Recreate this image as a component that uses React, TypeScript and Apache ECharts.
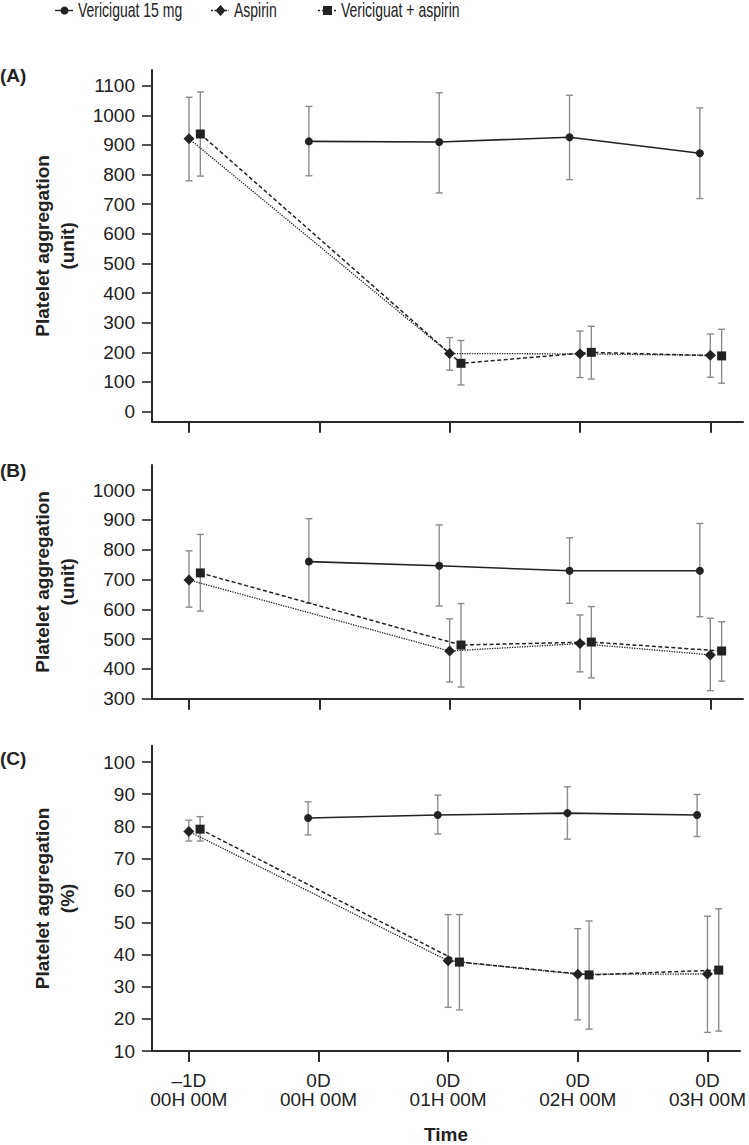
import React, { useEffect, useRef } from "react";
import * as echarts from "echarts";

// ---------- Data ----------
const timeLabels = ["–1D\n00H 00M", "0D\n00H 00M", "0D\n01H 00M", "0D\n02H 00M", "0D\n03H 00M"];
const vericiguatTimes = [1, 2, 3, 4];
const aspirinTimes = [0, 2, 3, 4];
const comboTimes = [0, 2, 3, 4];
const seriesNames = ["Vericiguat 15 mg", "Aspirin", "Vericiguat + aspirin"];

// Panel A (unit)
const vericiguatA = [912, 910, 926, 872];
const vericiguatALo = [796, 738, 783, 719];
const vericiguatAHi = [1030, 1076, 1068, 1025];
const aspirinA = [921, 196, 195, 190];
const aspirinALo = [779, 140, 115, 116];
const aspirinAHi = [1061, 250, 272, 262];
const comboA = [937, 163, 200, 188];
const comboALo = [795, 90, 110, 96];
const comboAHi = [1079, 240, 288, 278];

// Panel B (unit)
const vericiguatB = [760, 746, 729, 729];
const vericiguatBLo = [620, 611, 620, 575];
const vericiguatBHi = [904, 883, 840, 888];
const aspirinB = [698, 460, 485, 447];
const aspirinBLo = [607, 356, 390, 327];
const aspirinBHi = [796, 568, 581, 570];
const comboB = [722, 480, 490, 460];
const comboBLo = [594, 339, 370, 359];
const comboBHi = [851, 619, 609, 558];

// Panel C (%)
const vericiguatC = [82.6, 83.5, 84.1, 83.5];
const vericiguatCLo = [77.3, 77.6, 76.0, 76.8];
const vericiguatCHi = [87.6, 89.7, 92.3, 89.9];
const aspirinC = [78.4, 38.1, 33.9, 34.0];
const aspirinCLo = [75.4, 23.6, 19.7, 15.8];
const aspirinCHi = [81.9, 52.5, 48.1, 52.0];
const comboC = [79.1, 37.7, 33.7, 35.2];
const comboCLo = [75.4, 22.8, 16.8, 16.2];
const comboCHi = [83.0, 52.5, 50.5, 54.3];

const ticksA = [0, 100, 200, 300, 400, 500, 600, 700, 800, 900, 1000, 1100];
const ticksB = [300, 400, 500, 600, 700, 800, 900, 1000];
const ticksC = [10, 20, 30, 40, 50, 60, 70, 80, 90, 100];
const xTicks = [0, 1, 2, 3, 4];

// ---------- Styling ----------
const OFFSET_V = -0.08;
const OFFSET_A = 0;
const OFFSET_C = 0.087;
const INK = "#222222";
const AXIS = "#2a2a2a";
const ERR = "#8c8c8c";
const FONT = "'Liberation Sans', Arial, Helvetica, sans-serif";

const pts = (times: number[], vals: number[], off: number) => times.map((t, i) => [t + off, vals[i]]);
const errs = (times: number[], lo: number[], hi: number[], off: number) =>
  times.map((t, i) => [t + off, lo[i], hi[i]]);

const errRender = (params: any, api: any) => {
  const x = api.value(0);
  const p1 = api.coord([x, api.value(1)]);
  const p2 = api.coord([x, api.value(2)]);
  const cap = 3.5;
  const style = { stroke: ERR, lineWidth: 1.4 };
  return {
    type: "group",
    children: [
      { type: "line", shape: { x1: p1[0], y1: p1[1], x2: p2[0], y2: p2[1] }, style },
      { type: "line", shape: { x1: p1[0] - cap, y1: p1[1], x2: p1[0] + cap, y2: p1[1] }, style },
      { type: "line", shape: { x1: p2[0] - cap, y1: p2[1], x2: p2[0] + cap, y2: p2[1] }, style },
    ],
  };
};

// legend entry built from graphic primitives (condensed text like the original)
const legendEntry = (x: number, label: string, kind: "circle" | "diamond" | "square") => {
  const cy = 10.5;
  const lineDash = kind === "circle" ? null : kind === "diamond" ? [2, 1.5] : [2, 2];
  const children: any[] = [
    {
      type: "line",
      shape: { x1: x, y1: cy, x2: x + 18, y2: cy },
      style: { stroke: INK, lineWidth: 1.4, lineDash },
    },
  ];
  const mx = x + 9.5;
  if (kind === "circle") {
    children.push({ type: "circle", shape: { cx: mx, cy, r: 4 }, style: { fill: INK } });
  } else if (kind === "diamond") {
    children.push({
      type: "polygon",
      shape: { points: [[mx, cy - 5.5], [mx + 5, cy], [mx, cy + 5.5], [mx - 5, cy]] },
      style: { fill: INK },
    });
  } else {
    children.push({ type: "rect", shape: { x: mx - 4.5, y: cy - 4.5, width: 9, height: 9 }, style: { fill: INK } });
  }
  children.push({
    type: "text",
    x: x + 23,
    y: cy,
    scaleX: 0.7,
    style: { text: label, font: `20px ${FONT}`, fill: INK, verticalAlign: "middle", align: "left" },
  });
  return { type: "group", children };
};

export default function App() {
  const ref = useRef<HTMLDivElement>(null);
  useEffect(() => {
    if (!ref.current) return;
    const chart = echarts.init(ref.current, null, { renderer: "svg" });

    const grids = [
      { left: 152, top: 70, width: 591, height: 351.7 },
      { left: 152, top: 465, width: 591, height: 233.7 },
      { left: 152, top: 745.7, width: 591, height: 309.3 },
    ];
    const yRanges = [
      { min: -34, max: 1153, ticks: ticksA, name: "Platelet aggregation\n(unit)" },
      { min: 300, max: 1084, ticks: ticksB, name: "Platelet aggregation\n(unit)" },
      { min: 10, max: 105.1, ticks: ticksC, name: "Platelet aggregation\n(%)" },
    ];

    const xAxes = [0, 1, 2].map((i) => ({
      type: "value",
      gridIndex: i,
      min: -0.284,
      max: 4.251,
      splitLine: { show: false },
      axisLine: { show: true, onZero: false, lineStyle: { color: AXIS, width: 2 } },
      axisTick: { show: true, customValues: xTicks, length: 11, lineStyle: { color: AXIS, width: 2 } },
      axisLabel: {
        show: i === 2,
        customValues: xTicks,
        formatter: (v: number) => timeLabels[Math.round(v)],
        fontFamily: FONT,
        fontSize: 19,
        lineHeight: 19,
        margin: 20,
        color: INK,
      },
      name: i === 2 ? "Time" : "",
      nameLocation: "middle",
      nameGap: 74,
      nameTextStyle: { fontFamily: FONT, fontWeight: "bold", fontSize: 19, color: INK },
    }));

    const yAxes = yRanges.map((r, i) => ({
      type: "value",
      gridIndex: i,
      min: r.min,
      max: r.max,
      splitLine: { show: false },
      axisLine: { show: true, onZero: false, lineStyle: { color: AXIS, width: 2 } },
      axisTick: { show: true, customValues: r.ticks, length: 10, lineStyle: { color: AXIS, width: 1.6 } },
      axisLabel: {
        customValues: r.ticks,
        formatter: (v: number) => String(v),
        fontFamily: FONT,
        fontSize: 19,
        margin: 17,
        color: INK,
      },
      name: r.name,
      nameLocation: "middle",
      nameGap: 72,
      nameTextStyle: { fontFamily: FONT, fontWeight: "bold", fontSize: 19, lineHeight: 25, color: INK },
    }));

    const panels = [
      {
        v: [vericiguatA, vericiguatALo, vericiguatAHi],
        a: [aspirinA, aspirinALo, aspirinAHi],
        c: [comboA, comboALo, comboAHi],
      },
      {
        v: [vericiguatB, vericiguatBLo, vericiguatBHi],
        a: [aspirinB, aspirinBLo, aspirinBHi],
        c: [comboB, comboBLo, comboBHi],
      },
      {
        v: [vericiguatC, vericiguatCLo, vericiguatCHi],
        a: [aspirinC, aspirinCLo, aspirinCHi],
        c: [comboC, comboCLo, comboCHi],
      },
    ];

    const series: any[] = [];
    panels.forEach((p, i) => {
      const errData = [
        ...errs(vericiguatTimes, p.v[1], p.v[2], OFFSET_V),
        ...errs(aspirinTimes, p.a[1], p.a[2], OFFSET_A),
        ...errs(comboTimes, p.c[1], p.c[2], OFFSET_C),
      ];
      series.push({
        type: "custom",
        name: "err" + i,
        xAxisIndex: i,
        yAxisIndex: i,
        renderItem: errRender,
        data: errData,
        encode: { x: 0, y: [1, 2] },
        z: 1,
        silent: true,
      });
      series.push({
        type: "line",
        name: seriesNames[0],
        xAxisIndex: i,
        yAxisIndex: i,
        data: pts(vericiguatTimes, p.v[0], OFFSET_V),
        symbol: "circle",
        symbolSize: 8,
        itemStyle: { color: INK },
        lineStyle: { color: INK, width: 1.6, type: "solid" },
        z: 3,
      });
      series.push({
        type: "line",
        name: seriesNames[1],
        xAxisIndex: i,
        yAxisIndex: i,
        data: pts(aspirinTimes, p.a[0], OFFSET_A),
        symbol: "diamond",
        symbolSize: 11,
        itemStyle: { color: INK },
        lineStyle: { color: INK, width: 1.3, type: [1.3, 1.2] },
        z: 3,
      });
      series.push({
        type: "line",
        name: seriesNames[2],
        xAxisIndex: i,
        yAxisIndex: i,
        data: pts(comboTimes, p.c[0], OFFSET_C),
        symbol: "rect",
        symbolSize: 9,
        itemStyle: { color: INK },
        lineStyle: { color: INK, width: 1.5, type: [4, 2.5] },
        z: 4,
      });
    });

    chart.setOption({
      animation: false,
      backgroundColor: "#ffffff",
      grid: grids,
      xAxis: xAxes,
      yAxis: yAxes,
      graphic: [
        legendEntry(55, seriesNames[0], "circle"),
        legendEntry(211, seriesNames[1], "diamond"),
        legendEntry(318, seriesNames[2], "square"),
        { type: "text", left: 0, top: 66, style: { text: "(A)", font: `bold 19px ${FONT}`, fill: INK } },
        { type: "text", left: 0, top: 461, style: { text: "(B)", font: `bold 19px ${FONT}`, fill: INK } },
        { type: "text", left: 0, top: 749, style: { text: "(C)", font: `bold 19px ${FONT}`, fill: INK } },
      ],
      series,
    });
    return () => chart.dispose();
  }, []);
  return (
    <div
      ref={ref}
      style={{ position: "absolute", left: 0, top: 0, width: 749, height: 1145, background: "#fff" }}
    />
  );
}
